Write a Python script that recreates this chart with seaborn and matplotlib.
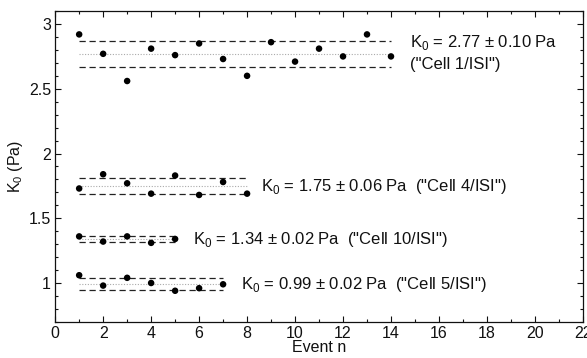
import numpy as np
import pandas as pd
import matplotlib
matplotlib.use('Agg')
import matplotlib.pyplot as plt
import seaborn as sns
from matplotlib.ticker import MultipleLocator

# values
cells = ['Cell 1/ISI', 'Cell 4/ISI', 'Cell 10/ISI', 'Cell 5/ISI']
cell1 = [2.92, 2.77, 2.56, 2.81, 2.76, 2.85, 2.73, 2.60, 2.86, 2.71, 2.81, 2.75, 2.92, 2.75]
cell4 = [1.73, 1.84, 1.77, 1.69, 1.83, 1.68, 1.78, 1.69]
cell10 = [1.36, 1.32, 1.36, 1.31, 1.34]
cell5 = [1.06, 0.98, 1.04, 1.00, 0.94, 0.96, 0.99]
means = [2.77, 1.75, 1.34, 0.99]
errs = [0.10, 0.06, 0.02, 0.02]
band = [0.10, 0.06, 0.02, 0.045]   # half width of the dashed lines as drawn

series = [cell1, cell4, cell10, cell5]
df = pd.concat([pd.DataFrame({'event': np.arange(1, len(v) + 1), 'K0': v, 'cell': c})
                for v, c in zip(series, cells)], ignore_index=True)

sns.set_style('ticks')
plt.rcParams['font.family'] = ['Liberation Sans', 'DejaVu Sans']
plt.rcParams['mathtext.fontset'] = 'custom'
plt.rcParams['mathtext.rm'] = 'Liberation Sans'
for k in ['text.color', 'axes.labelcolor', 'xtick.color', 'ytick.color', 'axes.edgecolor']:
    plt.rcParams[k] = '#111111'

fig = plt.figure(figsize=(5.87, 3.58), dpi=100)
ax = fig.add_axes([0.094, 0.101, 0.899, 0.868])

# mean and +- band lines
for v, m, b in zip(series, means, band):
    ax.hlines(m, 1, len(v), colors='#aaaaaa', linestyles=(0, (1, 1.5)), linewidth=0.8)
    ax.hlines([m - b, m + b], 1, len(v), colors='#222222', linestyles=(0, (5, 3)), linewidth=0.9)

sns.scatterplot(data=df, x='event', y='K0', color='black', s=22, edgecolor='none',
                legend=False, ax=ax, zorder=3)

# annotations
fs = 12
lab = 'K$_\\mathregular{0}$ = %.2f \u00b1 %.2f Pa'
ax.text(14.8, 2.855, lab % (means[0], errs[0]), fontsize=fs, va='center')
ax.text(14.8, 2.69, '("%s")' % cells[0], fontsize=fs, va='center')
ax.text(8.6, 1.745, (lab + '  ("%s")') % (means[1], errs[1], cells[1]), fontsize=fs, va='center')
ax.text(5.75, 1.335, (lab + '  ("%s")') % (means[2], errs[2], cells[2]), fontsize=fs, va='center')
ax.text(7.75, 0.99, (lab + '  ("%s")') % (means[3], errs[3], cells[3]), fontsize=fs, va='center')

ax.set_xlim(0, 22)
ax.set_ylim(0.7, 3.1)
ax.xaxis.set_major_locator(MultipleLocator(2))
ax.xaxis.set_minor_locator(MultipleLocator(1))
ax.yaxis.set_minor_locator(MultipleLocator(0.1))
ax.set_yticks([1, 1.5, 2, 2.5, 3])
ax.set_yticklabels(['1', '1.5', '2', '2.5', '3'])
ax.tick_params(which='both', direction='in', top=True, right=True, labelsize=11.5, width=0.8)
ax.tick_params(which='major', length=4, pad=3)
ax.tick_params(which='minor', length=2.5)
for s in ax.spines.values():
    s.set_linewidth(0.9)
ax.set_xlabel('Event n', fontsize=11.5, labelpad=-1)
ax.set_ylabel('K$_\\mathregular{0}$ (Pa)', fontsize=11.5, labelpad=3)

fig.savefig('out.png', dpi=100)
